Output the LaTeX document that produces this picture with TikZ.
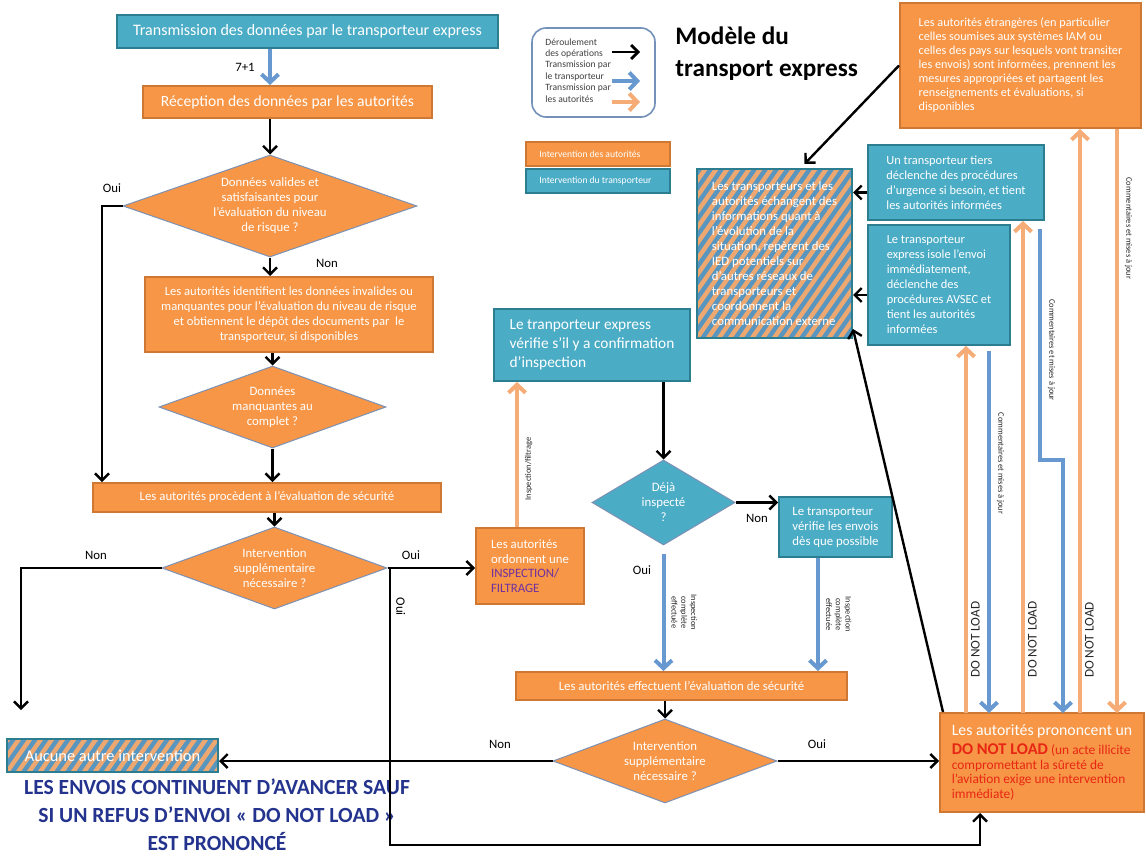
\documentclass[tikz,border=0pt]{standalone}
\usepackage{fontspec}
\setmainfont{Carlito}
\usepackage{tikz}
\usetikzlibrary{positioning}
\usetikzlibrary{fit}
\usetikzlibrary{calc}
\usetikzlibrary{shapes.geometric}
\usetikzlibrary{arrows.meta}

\definecolor{orfill}{RGB}{247,150,70}
\definecolor{orline}{RGB}{206,120,52}
\definecolor{blfill}{RGB}{75,172,198}
\definecolor{blline}{RGB}{45,125,145}
\definecolor{hatchbl}{RGB}{88,150,192}
\definecolor{stripeor}{RGB}{236,168,112}
\definecolor{arrbl}{RGB}{104,152,208}
\definecolor{arror}{RGB}{245,172,118}
\definecolor{diamline}{RGB}{125,145,180}
\definecolor{dnlred}{RGB}{232,38,20}
\definecolor{insppurple}{RGB}{112,48,160}
\definecolor{navytxt}{RGB}{36,52,142}
\definecolor{legline}{RGB}{115,145,185}

\tikzset{
  obox/.style={draw=orline, fill=orfill, line width=1pt, inner sep=0pt},
  bbox/.style={obox, draw=blline, fill=blfill},
  hatchbox/.style={draw=blline, fill=hatchbl, line width=1pt, inner sep=0pt,
    path picture={\foreach \k in {-20,...,30}{
      \draw[stripeor, line width=2.2pt] ([xshift=\k*5.5pt]path picture bounding box.south west) -- ++(70pt,100pt);}}},
  odiam/.style={diamond, draw=diamline, fill=orfill, line width=0.5pt, inner sep=0pt},
  bdiam/.style={odiam, fill=blfill},
  otxt/.style={text=white, align=center, font=\fontsize{6.4}{7.5}\selectfont, inner sep=0pt},
  ltxt/.style={otxt, align=left},
  lbl/.style={font=\fontsize{6.4}{7.5}\selectfont, inner sep=1pt},
  vlbl/.style={font=\fontsize{6.6}{7.5}\selectfont, inner sep=1.5pt, text=black!85},
  tinylbl/.style={font=\fontsize{4.2}{4.9}\selectfont, inner sep=3pt, align=center, text=black!85},
  flow/.style={line width=1.2pt, -{Straight Barb[length=3.5pt,width=7pt]}},
  bflow/.style={arrbl, line width=2pt, -{Straight Barb[length=4pt,width=8.5pt]}},
  oflow/.style={bflow, arror},
}

\begin{document}
\begin{tikzpicture}[x=0.5pt, y=-0.5pt]
    \useasboundingbox (0,0) rectangle (1146,856);
    \fill[white] (0,0) rectangle (1146,856);

    % left column
    \node[bbox, fit={(117,15) (498,48)},
        label={[otxt, font=\fontsize{8}{9.6}\selectfont]center:{Transmission des données par le transporteur express}}] (trans) {};
    \node[obox, fit={(143,86) (432,118)},
        label={[otxt, font=\fontsize{7.8}{9.4}\selectfont]center:{Réception des données par les autorités}}] (recep) {};
    \node[odiam, minimum width=147pt, minimum height=51pt,
        label={[otxt]center:{Données valides et\\satisfaisantes pour\\l’évaluation du niveau\\de risque ?}}] (d1) at (270,206) {};
    \node[obox, fit={(145,277) (433,352)},
        label={[otxt, font=\fontsize{6.3}{7.5}\selectfont]center:{Les autorités identifient les données invalides ou\\manquantes pour l’évaluation du niveau de risque\\et obtiennent le dépôt des documents par~ le\\transporteur, si disponibles}}] (ident) {};
    \node[odiam, minimum width=113.5pt, minimum height=41pt,
        label={[otxt]center:{Données\\manquantes au\\complet ?}}] (d2) at (272.5,407) {};
    \node[obox, fit={(93,483) (441,512)},
        label={[otxt]center:{Les autorités procèdent à l’évaluation de sécurité}}] (eval) {};
    \node[odiam, minimum width=112.5pt, minimum height=41pt,
        label={[otxt]center:{Intervention\\supplémentaire\\nécessaire ?}}] (d3) at (274.5,568) {};
    \node[hatchbox, fit={(7,739) (218,772)},
        label={[otxt, font=\fontsize{8.2}{9.8}\selectfont]center:{Aucune autre intervention}}] (aucune) {};
    \node[font=\bfseries\fontsize{10.8}{14}\selectfont, text=navytxt, align=center] (envois) at (217,815)
        {LES ENVOIS CONTINUENT D’AVANCER SAUF\\SI UN REFUS D’ENVOI «~DO NOT LOAD~»\\EST PRONONCÉ};

    % middle column
    \node[draw=legline, line width=0.8pt, rounded corners=7pt, fill=white, inner sep=0pt, fit={(532,28) (655,117)}] (legende) {};
    \node[anchor=north west, inner sep=0pt, align=left, font=\fontsize{4.8}{5.7}\selectfont, text=black!75] (legtxt) at (545,38)
        {Déroulement\\des opérations\\Transmission par\\le transporteur\\Transmission par\\les autorités};
    \node[anchor=west, inner sep=0pt, align=left, font=\bfseries\fontsize{12.6}{16}\selectfont] (titre) at (675,54) {Modèle du\\transport express};
    \node[obox, fit={(526,142) (670,166)}] (interA) {};
    \node[ltxt, anchor=west, font=\fontsize{4.8}{5.6}\selectfont] at ($(interA.west)+(14,0)$) {Intervention des autorités};
    \node[bbox, fit={(526,169) (670,193)}] (interT) {};
    \node[ltxt, anchor=west, font=\fontsize{4.8}{5.6}\selectfont] at ($(interT.west)+(14,0)$) {Intervention du transporteur};

    \node[bbox, fit={(494,309) (690,381)},
        label={[ltxt, font=\fontsize{7.7}{9.5}\selectfont]center:{Le tranporteur express\\vérifie s’il y a confirmation\\d’inspection}}] (confirm) {};
    \node[obox, fit={(476,528) (584,604)},
        label={[ltxt, font=\fontsize{6.4}{7.3}\selectfont]center:{Les autorités\\ordonnent une\\\textcolor{insppurple}{INSPECTION/}\\\textcolor{insppurple}{FILTRAGE}}}] (insp) {};
    \node[bdiam, minimum width=71.5pt, minimum height=42.5pt,
        label={[otxt]center:{Déjà\\inspecté\\?}}] (dd) at (663.5,502.5) {};
    \node[bbox, fit={(779,497) (892,557)},
        label={[ltxt]center:{Le transporteur\\vérifie les envois\\dès que possible}}] (verif) {};
    \node[obox, fit={(516,672) (847,700)},
        label={[otxt]center:{Les autorités effectuent l’évaluation de sécurité}}] (eff) {};
    \node[odiam, minimum width=112pt, minimum height=42pt,
        label={[otxt]center:{Intervention\\supplémentaire\\nécessaire ?}}] (d4) at (665,761) {};

    % right column
    \node[hatchbox, fit={(697,169) (852,338)},
        label={[ltxt]center:{Les transporteurs et les\\autorités échangent des\\informations quant à\\l’évolution de la\\situation, repèrent des\\IED potentiels sur\\d’autres réseaux de\\transporteurs et\\coordonnent la\\communication externe}}] (hatch) {};
    \node[bbox, fit={(868,145) (1044,220)},
        label={[ltxt, font=\fontsize{6.2}{7.5}\selectfont]center:{Un transporteur tiers\\déclenche des procédures\\d’urgence si besoin, et tient\\les autorités informées}}] (tiers) {};
    \node[bbox, fit={(868,225) (1010,345)},
        label={[ltxt, font=\fontsize{6.2}{7.5}\selectfont]center:{Le transporteur\\express isole l’envoi\\immédiatement,\\déclenche des\\procédures AVSEC et\\tient les autorités\\informées}}] (isole) {};
    \node[obox, fit={(900,3) (1141,128)},
        label={[ltxt, font=\fontsize{6.1}{7}\selectfont]center:{Les autorités étrangères (en particulier\\celles soumises aux systèmes IAM ou\\celles des pays sur lesquels vont transiter\\les envois) sont informées, prennent les\\mesures appropriées et partagent les\\renseignements et évaluations, si\\disponibles}}] (foreign) {};
    \node[obox, fit={(940,713) (1144,812)},
        label={[ltxt, text=dnlred, font=\fontsize{6.7}{7.3}\selectfont]center:{\textcolor{white}{\fontsize{7.9}{9.5}\selectfont Les autorités prononcent un}\\[2pt]\textbf{\fontsize{8.2}{9}\selectfont DO NOT LOAD} (un acte illicite\\compromettant la sûreté de\\l’aviation exige une intervention\\immédiate)}}] (dnl) {};

    % labels
    \node[lbl] at (245,67) {7+1};
    \node[lbl] at (112,188) {Oui};
    \node[lbl] at (327,263) {Non};
    \node[lbl] at (96,555) {Non};
    \node[lbl] at (411,555) {Oui};
    \node[lbl] at (642,570) {Oui};
    \node[lbl] at (757,518) {Non};
    \node[lbl] at (500,744) {Non};
    \node[lbl] at (817,744) {Oui};

    % legend arrows
    \coordinate (lg1) at (612,52);
    \coordinate (lg2) at (612,81);
    \coordinate (lg3) at (612,102);
    \draw[flow, line width=1.4pt] (lg1) -- ++(28,0);
    \draw[bflow] (lg2) -- ++(28,0);
    \draw[oflow] (lg3) -- ++(28,0);

    % free ends
    \coordinate (ouiL) at (102,206);
    \coordinate (nonL) at (21,710);
    \coordinate (ouiB) at (390,845);
    \coordinate (dnlIn) at (980,845);
    \coordinate (ib) at ($(insp.north)+(-13,0)$);
    \coordinate (db) at ($(dd.south)+(0,8)$);
    \coordinate (vb) at ($(verif.south)+(-17.5,0)$);
    \coordinate (t1) at ($(tiers.west)+(0,10)$);
    \coordinate (t2) at ($(isole.west)+(0,10)$);
    \coordinate (v1) at (966,713);
    \coordinate (v2) at (989,713);
    \coordinate (v3) at (1023,713);
    \coordinate (j1) at (1040,460);
    \coordinate (j2) at (1063,460);
    \coordinate (v4) at (1063,713);
    \coordinate (v5) at (1080,713);
    \coordinate (v6) at (1117,713);

    % left flow
    \draw[bflow] (trans.south -| d1.north) -- (recep.north -| d1.north);
    \draw[flow] (recep.south -| d1.north) -- (d1.north);
    \draw[flow] (d1.west) -| (eval.north -| ouiL);
    \draw[flow] (d1.south) -- (ident.north -| d1.south);
    \draw[flow] (ident.south -| d2.north) -- (d2.north);
    \draw[flow] (d2.south) -- (eval.north -| d2.south);
    \draw[flow] (eval.south -| d3.north) -- (d3.north);
    \draw[flow] (d3.west) -| (nonL);
    \draw[flow] (d3.east) -- (insp.west |- d3.east);
    \draw[flow] (d3.east -| ouiB) -- node[pos=0.14, lbl, rotate=-90, anchor=south, inner sep=2.5pt] {Oui} (ouiB) -- (dnlIn) -- (dnl.south -| dnlIn);

    % middle flow
    \draw[oflow] (ib) -- node[pos=0.4, tinylbl, rotate=90, anchor=north] {Inspection/filtrage} (ib |- confirm.south);
    \draw[flow] (confirm.south -| dd.north) -- (dd.north);
    \draw[flow] (dd.east) -- (verif.west |- dd.east);
    \draw[bflow] (db) -- node[midway, tinylbl, rotate=-90, anchor=south] {Inspection\\complète\\effectuée} (db |- eff.north);
    \draw[bflow] (vb) -- node[midway, tinylbl, rotate=-90, anchor=south] {Inspection\\complète\\effectuée} (vb |- eff.north);
    \draw[flow] (eff.south -| d4.north) -- (d4.north);
    \draw[flow] (d4.west) -- (aucune.east |- d4.west);
    \draw[flow] (d4.east) -- (dnl.west |- d4.east);

    % right flow
    \draw[flow] ($(dnl.north west)+(4,0)$) -- ($(hatch.south east)+(0,-10)$);
    \draw[flow] (foreign.west) -- ($(hatch.north)+(30,-4)$);
    \draw[flow] (t1) -- (t1 -| hatch.east);
    \draw[flow] (t2) -- (t2 -| hatch.east);

    \draw[oflow] (v1) -- node[pos=0.2, vlbl, rotate=90, anchor=north] {DO NOT LOAD} (v1 |- isole.south);
    \draw[bflow, shorten <=2.5pt] (v2 |- isole.south) -- node[pos=0.32, tinylbl, rotate=-90, anchor=south] {Commentaires et mises à jour} (v2);
    \draw[oflow] (v3) -- node[pos=0.15, vlbl, rotate=90, anchor=north] {DO NOT LOAD} (v3 |- tiers.south);
    \draw[bflow, shorten <=4pt] (j1 |- tiers.south) -- node[pos=0.54, tinylbl, rotate=-90, anchor=south] {Commentaires et mises à jour} (j1) -- (j2) -- (v4);
    \draw[oflow] (v5) -- node[pos=0.125, vlbl, rotate=90, anchor=north] {DO NOT LOAD} (v5 |- foreign.south);
    \draw[oflow] (v6 |- foreign.south) -- node[pos=0.17, tinylbl, rotate=-90, anchor=south] {Commentaires et mises à jour} (v6);
\end{tikzpicture}
\end{document}
